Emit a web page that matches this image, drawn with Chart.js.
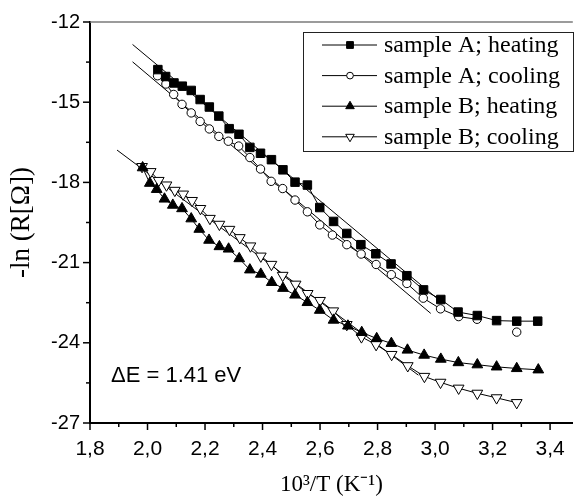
<!DOCTYPE html>
<html>
<head>
<meta charset="utf-8">
<script src="https://cdn.jsdelivr.net/npm/chart.js@4.4.0/dist/chart.umd.min.js"></script>
<style>
  html, body { margin: 0; padding: 0; background: #fff; }
</style>
</head>
<body>
<canvas id="chart" width="580" height="499"></canvas>
<script>
// data
const aHeatX = [2.036, 2.063, 2.092, 2.121, 2.152, 2.183, 2.215, 2.248, 2.284, 2.318, 2.356, 2.393, 2.431, 2.471, 2.513, 2.556, 2.599, 2.647, 2.693, 2.742, 2.794, 2.847, 2.902, 2.960, 3.020, 3.080, 3.147, 3.214, 3.284, 3.357];
const aHeatY = [-13.78, -14.04, -14.28, -14.40, -14.56, -14.90, -15.18, -15.52, -15.99, -16.20, -16.69, -16.91, -17.15, -17.53, -17.99, -18.10, -18.94, -19.46, -19.91, -20.33, -20.67, -21.05, -21.49, -22.02, -22.38, -22.85, -22.98, -23.17, -23.19, -23.19];

// null = no measurement there (the last circle stands alone)
const aCoolX = [2.035, 2.064, 2.091, 2.120, 2.152, 2.183, 2.215, 2.248, 2.281, 2.317, 2.356, 2.393, 2.430, 2.470, 2.513, 2.556, 2.599, 2.643, 2.693, 2.743, 2.795, 2.848, 2.902, 2.959, 3.019, 3.082, 3.146, 3.214, 3.284];
const aCoolY = [-14.01, -14.32, -14.71, -15.08, -15.40, -15.72, -16.00, -16.28, -16.46, -16.64, -17.07, -17.50, -17.96, -18.23, -18.66, -19.10, -19.59, -19.97, -20.33, -20.68, -21.07, -21.45, -21.78, -22.33, -22.73, -23.02, -23.12, null, -23.60];

const bHeatX = [1.983, 2.008, 2.032, 2.059, 2.088, 2.120, 2.152, 2.180, 2.214, 2.250, 2.282, 2.319, 2.356, 2.394, 2.432, 2.471, 2.513, 2.556, 2.599, 2.647, 2.697, 2.745, 2.797, 2.848, 2.904, 2.962, 3.020, 3.081, 3.147, 3.214, 3.284, 3.359];
const bHeatY = [-17.45, -18.03, -18.26, -18.62, -18.85, -18.98, -19.36, -19.75, -20.16, -20.40, -20.49, -20.85, -21.27, -21.43, -21.74, -21.96, -22.21, -22.49, -22.78, -23.15, -23.37, -23.61, -23.84, -24.02, -24.27, -24.46, -24.61, -24.74, -24.82, -24.90, -24.96, -25.01];

const bCoolX = [1.981, 2.011, 2.039, 2.066, 2.095, 2.124, 2.155, 2.184, 2.217, 2.250, 2.285, 2.321, 2.358, 2.394, 2.431, 2.470, 2.515, 2.557, 2.600, 2.646, 2.693, 2.744, 2.795, 2.849, 2.905, 2.963, 3.019, 3.082, 3.147, 3.214, 3.284];
const bCoolY = [-17.41, -17.60, -17.93, -18.10, -18.30, -18.44, -18.68, -18.98, -19.35, -19.57, -19.76, -20.07, -20.38, -20.76, -21.07, -21.48, -21.81, -22.16, -22.42, -22.81, -23.32, -23.78, -24.07, -24.44, -24.86, -25.26, -25.48, -25.70, -25.89, -26.06, -26.24];

// straight fit lines (end points)
const fitAHeatX = [1.948, 3.016];
const fitAHeatY = [-12.84, -22.42];
const fitACoolX = [1.948, 2.985];
const fitACoolY = [-13.49, -22.90];
const fitBX = [1.894, 2.942];
const fitBY = [-16.79, -25.21];

const seriesLabels = ['sample A; heating', 'sample A; cooling', 'sample B; heating', 'sample B; cooling'];

const xMajor = [1.8, 2.0, 2.2, 2.4, 2.6, 2.8, 3.0, 3.2, 3.4];
const xMinor = [1.9, 2.1, 2.3, 2.5, 2.7, 2.9, 3.1, 3.3];
const xTickLabels = ['1,8', '2,0', '2,2', '2,4', '2,6', '2,8', '3,0', '3,2', '3,4'];
const yMajor = [-27, -24, -21, -18, -15, -12];
const yMinor = [-25.5, -22.5, -19.5, -16.5, -13.5];
const yTickLabels = ['-27', '-24', '-21', '-18', '-15', '-12'];

const noteText = '\u0394E = 1.41 eV';

function pts(xs, ys) {
    return xs.map((x, i) => ({ x: x, y: ys[i] }));
}

function series(label, xs, ys, style, radius, fill, rotation) {
    return {
        label: label,
        data: pts(xs, ys),
        borderColor: '#000',
        borderWidth: 1,
        pointStyle: style,
        pointRadius: radius,
        pointRotation: rotation || 0,
        pointBackgroundColor: fill,
        pointBorderColor: '#000',
        pointBorderWidth: 1,
        tension: 0,
        spanGaps: false,
        fill: false
    };
}

function fitLine(xs, ys) {
    return {
        label: '',
        data: pts(xs, ys),
        borderColor: '#000',
        borderWidth: 1,
        pointRadius: 0,
        fill: false
    };
}

// small marker painter for the legend
function marker(ctx, style, r, rot, x, y) {
    ctx.beginPath();
    if (style === 'rect') {
        const s = r * Math.SQRT1_2;
        ctx.rect(x - s, y - s, 2 * s, 2 * s);
    } else if (style === 'circle') {
        ctx.arc(x, y, r, 0, Math.PI * 2);
    } else {
        let a = rot * Math.PI / 180;
        ctx.moveTo(x + Math.sin(a) * r, y - Math.cos(a) * r);
        a += Math.PI * 2 / 3;
        ctx.lineTo(x + Math.sin(a) * r, y - Math.cos(a) * r);
        a += Math.PI * 2 / 3;
        ctx.lineTo(x + Math.sin(a) * r, y - Math.cos(a) * r);
        ctx.closePath();
    }
    ctx.fill();
    ctx.stroke();
}

const decor = {
    id: 'decor',
    afterDraw(chart) {
        const { ctx, chartArea: a, scales: { x, y } } = chart;
        ctx.save();

        // grey top frame line
        ctx.strokeStyle = '#7a7a7a';
        ctx.lineWidth = 1.5;
        ctx.beginPath();
        ctx.moveTo(a.left, a.top);
        ctx.lineTo(a.right, a.top);
        ctx.stroke();

        // outward tick marks
        ctx.strokeStyle = '#000';
        ctx.lineWidth = 1.5;
        const tx = (v, len) => {
            const p = x.getPixelForValue(v);
            ctx.beginPath(); ctx.moveTo(p, a.bottom); ctx.lineTo(p, a.bottom + len); ctx.stroke();
        };
        const ty = (v, len) => {
            const p = y.getPixelForValue(v);
            ctx.beginPath(); ctx.moveTo(a.left, p); ctx.lineTo(a.left - len, p); ctx.stroke();
        };
        xMajor.forEach(v => tx(v, 7));
        xMinor.forEach(v => tx(v, 4));
        yMajor.forEach(v => ty(v, 7));
        yMinor.forEach(v => ty(v, 4));

        // legend box
        const lx = 303, ly = 32, lw = 270, lh = 119;
        ctx.strokeStyle = '#222';
        ctx.lineWidth = 1;
        ctx.strokeRect(lx + 0.5, ly + 0.5, lw, lh);
        ctx.font = '24px "Liberation Serif", "Times New Roman", serif';
        ctx.textBaseline = 'middle';
        chart.data.datasets.slice(0, 4).forEach((ds, i) => {
            const cy = 45 + i * 30.6;
            ctx.strokeStyle = '#000';
            ctx.lineWidth = 1;
            ctx.beginPath(); ctx.moveTo(322, cy); ctx.lineTo(377, cy); ctx.stroke();
            ctx.fillStyle = ds.pointBackgroundColor;
            marker(ctx, ds.pointStyle, ds.pointRadius * 0.8, ds.pointRotation, 350, cy);
            ctx.fillStyle = '#000';
            ctx.fillText(ds.label, 384, cy + 1);
        });

        // activation energy note
        ctx.font = '22px "Liberation Sans", Arial, sans-serif';
        ctx.fillStyle = '#000';
        ctx.textBaseline = 'middle';
        ctx.fillText(noteText, 111, 376);

        ctx.restore();
    }
};

const sans = '"Liberation Sans", Arial, sans-serif';
const serif = '"Liberation Serif", "Times New Roman", serif';

new Chart(document.getElementById('chart'), {
    type: 'line',
    data: {
        datasets: [
            series(seriesLabels[0], aHeatX, aHeatY, 'rect', 6, '#000'),
            series(seriesLabels[1], aCoolX, aCoolY, 'circle', 4.2, '#fff'),
            series(seriesLabels[2], bHeatX, bHeatY, 'triangle', 6.2, '#000'),
            series(seriesLabels[3], bCoolX, bCoolY, 'triangle', 6.2, '#fff', 180),
            fitLine(fitAHeatX, fitAHeatY),
            fitLine(fitACoolX, fitACoolY),
            fitLine(fitBX, fitBY)
        ]
    },
    options: {
        responsive: false,
        animation: false,
        events: [],
        layout: { padding: { top: 21, left: 0, right: 0, bottom: 0 } },
        plugins: {
            legend: { display: false },
            tooltip: { enabled: false }
        },
        scales: {
            x: {
                type: 'linear',
                min: 1.8,
                max: 3.479,
                afterFit: s => { s.height = 76; },
                afterBuildTicks: s => { s.ticks = xMajor.map(v => ({ value: v })); },
                grid: { display: false, drawTicks: false },
                border: { display: true, color: '#000', width: 2 },
                ticks: {
                    padding: 14,
                    color: '#000',
                    font: { family: sans, size: 21 },
                    maxRotation: 0,
                    autoSkip: false,
                    callback: (v, i) => xTickLabels[i]
                },
                title: {
                    display: true,
                    text: '10\u00B3/T (K\u207B\u00B9)',
                    color: '#000',
                    font: { family: serif, size: 23 },
                    padding: { top: 0, bottom: 0 }
                }
            },
            y: {
                type: 'linear',
                min: -27,
                max: -12,
                afterFit: s => { s.width = 90; },
                afterBuildTicks: s => { s.ticks = yMajor.map(v => ({ value: v })); },
                grid: { display: false, drawTicks: false },
                border: { display: true, color: '#000', width: 2 },
                ticks: {
                    padding: 10,
                    color: '#000',
                    font: { family: sans, size: 20 },
                    autoSkip: false,
                    callback: (v, i) => yTickLabels[i]
                },
                title: {
                    display: true,
                    text: '-ln (R[\u03A9])',
                    color: '#000',
                    font: { family: serif, size: 27 },
                    padding: { top: 6, bottom: 0 }
                }
            }
        }
    },
    plugins: [decor]
});
</script>
</body>
</html>
